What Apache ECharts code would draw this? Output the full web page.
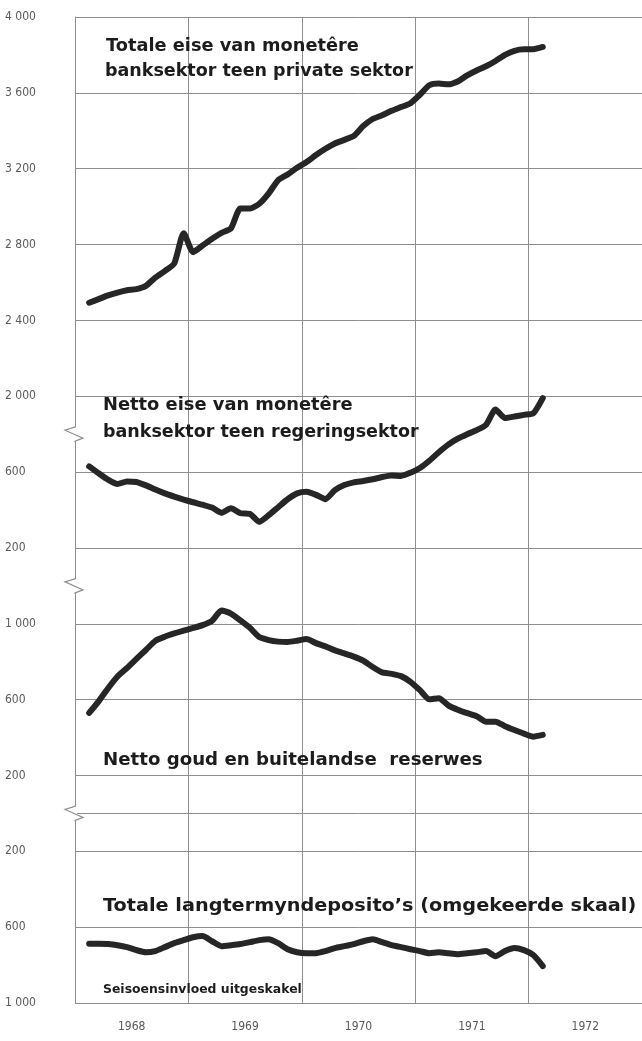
<!DOCTYPE html>
<html>
<head>
<meta charset="utf-8">
<script src="https://cdn.jsdelivr.net/npm/echarts@6/dist/echarts.min.js"></script>
<style>
  html, body { margin: 0; padding: 0; background: #ffffff; }
  #chart { width: 642px; height: 1041px; }
</style>
</head>
<body>
<div id="chart"></div>
<script>
// Monthly observations, February 1968 to February 1972 (R miljoen)
const months = [
  '1968-02','1968-03','1968-04','1968-05','1968-06','1968-07','1968-08','1968-09','1968-10','1968-11','1968-12',
  '1969-01','1969-02','1969-03','1969-04','1969-05','1969-06','1969-07','1969-08','1969-09','1969-10','1969-11','1969-12',
  '1970-01','1970-02','1970-03','1970-04','1970-05','1970-06','1970-07','1970-08','1970-09','1970-10','1970-11','1970-12',
  '1971-01','1971-02','1971-03','1971-04','1971-05','1971-06','1971-07','1971-08','1971-09','1971-10','1971-11','1971-12',
  '1972-01','1972-02'
];

const yearLabels = ['1968', '1969', '1970', '1971', '1972'];

// Totale eise van monetêre banksektor teen private sektor
const privateClaims = [
  2493, 2512, 2532, 2547, 2559, 2565, 2582, 2626, 2660, 2700, 2860,
  2760, 2795, 2830, 2862, 2885, 2990, 2990, 3015, 3070, 3140, 3170, 3205,
  3235, 3272, 3305, 3333, 3352, 3373, 3425, 3462, 3482, 3505, 3525, 3545,
  3590, 3640, 3649, 3645, 3660, 3692, 3718, 3740, 3768, 3800, 3822, 3830,
  3830, 3842
];

// Netto eise van monetêre banksektor teen regeringsektor
const governmentClaims = [
  630, 594, 560, 537, 551, 548, 530, 508, 488, 471, 455,
  441, 428, 413, 385, 410, 383, 380, 338, 373, 415, 457, 488,
  496, 480, 457, 505, 532, 546, 553, 562, 574, 582, 580, 597,
  622, 660, 705, 745, 776, 800, 821, 850, 930, 885, 893, 902,
  910, 990
];

// Netto goud en buitelandse reserwes
const goldReserves = [
  530, 591, 660, 722, 767, 815, 862, 910, 932, 949, 964,
  978, 993, 1016, 1070, 1054, 1018, 979, 930, 914, 906, 904, 911,
  920, 898, 881, 860, 844, 827, 806, 772, 744, 736, 724, 694,
  650, 602, 608, 570, 547, 529, 513, 484, 484, 460, 440, 421,
  405, 414
];

// Totale langtermyndeposito's (omgekeerde skaal)
const longTermDeposits = [
  687, 687, 689, 695, 705, 721, 732, 726, 705, 684, 668,
  653, 647, 674, 700, 695, 689, 679, 668, 663, 684, 716, 732,
  737, 737, 726, 710, 700, 689, 674, 663, 679, 695, 705, 716,
  726, 737, 732, 737, 742, 737, 732, 726, 753, 726, 710, 721,
  747, 805
];

// Layout of the stacked panels: every band between grid lines has the same height
const LEFT = 75, WIDTH = 570, TOP = 17, ROW = 75.85;
const GRID_COLOR = '#8e8e8e';
const INK = '#262626';
const LABEL_FONT = '"Liberation Sans Narrow", "DejaVu Sans Condensed", "Liberation Sans", sans-serif';

const panels = [
  { rows: [0, 5],   min: 2000, max: 4000, inverse: false, labelled: [2000, 2400, 2800, 3200, 3600, 4000], values: privateClaims },
  { rows: [5, 7],   min: 200,  max: 1000, inverse: false, labelled: [200, 600],        values: governmentClaims },
  { rows: [7, 10],  min: 200,  max: 1400, inverse: false, labelled: [200, 600, 1000],  values: goldReserves },
  { rows: [10, 13], min: -200, max: 1000, inverse: true,  labelled: [200, 600, 1000],  values: longTermDeposits }
];

function decimalYear(m) {
  const [y, mo] = m.split('-').map(Number);
  return y + (mo - 0.5) / 12;
}

function thousands(v) {
  return v >= 1000 ? Math.floor(v / 1000) + ' ' + String(v % 1000).padStart(3, '0') : String(v);
}

const grids = [], xAxes = [], yAxes = [], series = [];

panels.forEach((p, i) => {
  grids.push({
    left: LEFT, width: WIDTH,
    top: TOP + p.rows[0] * ROW,
    height: (p.rows[1] - p.rows[0]) * ROW
  });
  xAxes.push({
    type: 'value', gridIndex: i, min: 1968, max: 1973, interval: 1,
    axisLabel: { show: false }, axisTick: { show: false },
    axisLine: { show: i === panels.length - 1, lineStyle: { color: GRID_COLOR, width: 1 } },
    splitLine: { show: true, lineStyle: { color: GRID_COLOR, width: 1 } }
  });
  yAxes.push({
    type: 'value', gridIndex: i, min: p.min, max: p.max, interval: 400, inverse: p.inverse,
    axisLine: { show: true, lineStyle: { color: GRID_COLOR, width: 1 } },
    axisTick: { show: false },
    splitLine: { show: true, lineStyle: { color: GRID_COLOR, width: 1 } },
    axisLabel: {
      margin: 70, align: 'left', color: '#5a5a5a', fontSize: 12, fontFamily: LABEL_FONT,
      formatter: v => (p.labelled.includes(v) ? thousands(v) : '')
    }
  });
  series.push({
    type: 'line', xAxisIndex: i, yAxisIndex: i,
    data: months.map((m, k) => [decimalYear(m), p.values[k]]),
    showSymbol: false, smooth: 0.2, clip: false, silent: true,
    lineStyle: { color: INK, width: 6, cap: 'round', join: 'round' }
  });
});

// Year names sit in the middle of each yearly band along the bottom
xAxes.push({
  type: 'category', gridIndex: panels.length - 1, position: 'bottom',
  data: yearLabels, boundaryGap: true,
  axisLine: { show: false }, axisTick: { show: false }, splitLine: { show: false },
  axisLabel: { margin: 18, color: '#5a5a5a', fontSize: 12, fontFamily: LABEL_FONT }
});

const TITLE_FONT = 'bold 17.5px "DejaVu Sans", sans-serif';
// Captions are set in a slightly extended bold face
function caption(text, x, y, stretch, font) {
  return { type: 'text', silent: true, z: 100, x, y, scaleX: stretch || 1,
    style: { text, x: 0, y: 0, font: font || TITLE_FONT, fill: '#1c1c1c', verticalAlign: 'middle' } };
}

// Axis-break marks on the left edge between the panels
function breakMark(k) {
  const y = TOP + k * ROW;
  return [
    { type: 'rect', silent: true, z: 90, shape: { x: LEFT - 2, y: y - 7, width: 4, height: 14 }, style: { fill: '#ffffff' } },
    { type: 'polyline', silent: true, z: 91,
      shape: { points: [[LEFT, y - 8], [LEFT, y - 7], [LEFT - 10, y - 4], [LEFT + 8, y + 4], [LEFT, y + 7], [LEFT, y + 8]] },
      style: { stroke: GRID_COLOR, lineWidth: 1.2, fill: null } }
  ];
}

const graphics = [
  caption('Totale eise van monetêre', 106, 46, 1.015),
  caption('banksektor teen private sektor', 105, 71.5, 1.0),
  caption('Netto eise van monetêre', 103, 405.5, 1.02),
  caption('banksektor teen regeringsektor', 103, 432, 1.0),
  caption('Netto goud en buitelandse  reserwes', 103, 760.5, 1.038),
  caption('Totale langtermyndeposito\u2019s (omgekeerde skaal)', 103, 906.5, 1.1),
  caption('Seisoensinvloed uitgeskakel', 103, 989.5, 1.035, 'bold 12px "DejaVu Sans", sans-serif'),
  ...breakMark(5.5), ...breakMark(7.5), ...breakMark(10.5)
];

const chart = echarts.init(document.getElementById('chart'), null, { renderer: 'canvas' });
chart.setOption({
  animation: false,
  backgroundColor: '#ffffff',
  grid: grids,
  xAxis: xAxes,
  yAxis: yAxes,
  series: series,
  graphic: graphics
});
</script>
</body>
</html>
